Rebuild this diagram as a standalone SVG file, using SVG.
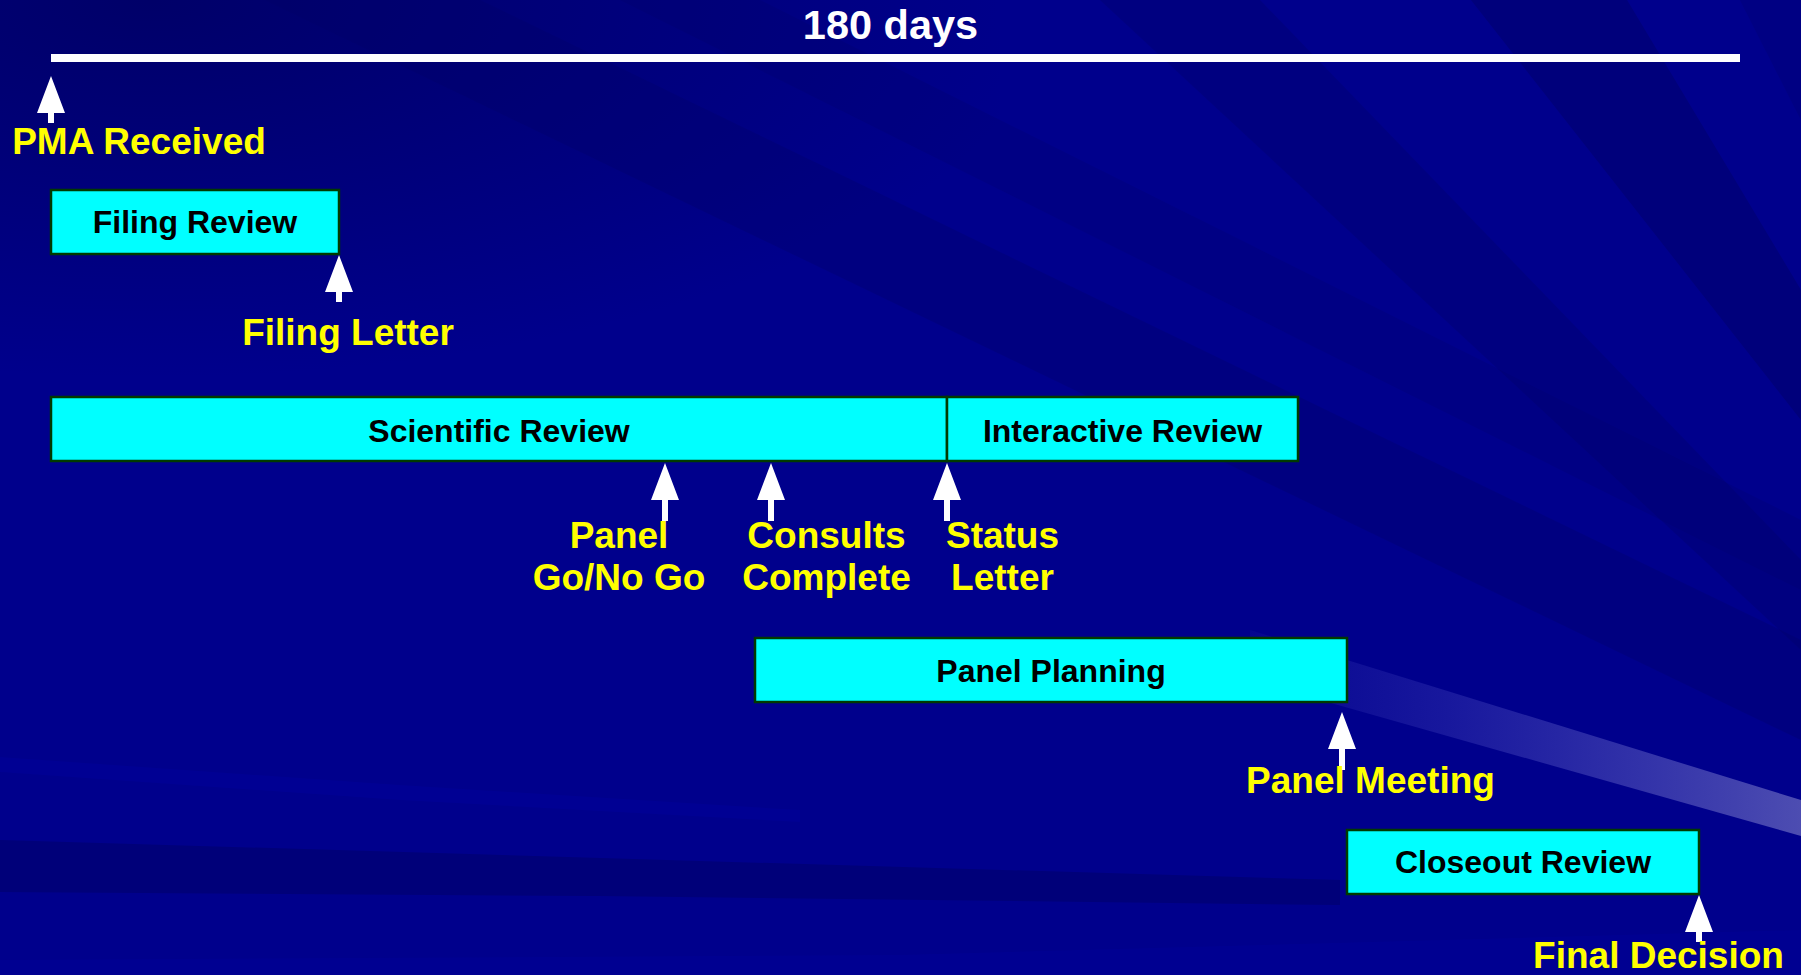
<svg xmlns="http://www.w3.org/2000/svg" xmlns:xlink="http://www.w3.org/1999/xlink" width="1801" height="975" viewBox="0 0 1801 975">
<style>
.box{fill:#00FFFF;stroke:#003A00;stroke-width:2.5}
.bt{font-family:"Liberation Sans",Arial,sans-serif;font-weight:bold;font-size:32px;fill:#000;text-anchor:middle}
.lb{font-family:"Liberation Sans",Arial,sans-serif;font-weight:bold;font-size:37px;fill:#FFFF00;text-anchor:middle}
.ttl{font-family:"Liberation Sans",Arial,sans-serif;font-weight:bold;font-size:41.5px;fill:#FFFFFF;text-anchor:middle}
.arr{fill:#FFFFFF}
.dk{fill:#000066}
</style>
<defs>
<path id="arrS" d="M0,0 L14,37 L3,37 L3,47 L-3,47 L-3,37 L-14,37 Z"/>
<path id="arrL" d="M0,0 L14,37 L3,37 L3,58 L-3,58 L-3,37 L-14,37 Z"/>
<linearGradient id="streak" x1="0" y1="0" x2="1" y2="0">
<stop offset="0" stop-color="#6a6ad8" stop-opacity="0.05"/>
<stop offset="0.35" stop-color="#6a6ad8" stop-opacity="0.22"/>
<stop offset="1" stop-color="#8c8cd0" stop-opacity="0.55"/>
</linearGradient>
<radialGradient id="corner" cx="0.15" cy="0" r="0.9">
<stop offset="0" stop-color="#000060" stop-opacity="0.8"/>
<stop offset="1" stop-color="#000060" stop-opacity="0"/>
</radialGradient>
</defs>
<g id="background">
<rect x="0" y="0" width="1801" height="975" fill="#00008C"/>
<rect x="0" y="0" width="1000" height="420" fill="url(#corner)"/>
<polygon class="dk" opacity="0.3" points="265,0 480,0 1801,640 1801,740"/>
<polygon class="dk" opacity="0.2" points="620,0 760,0 1801,520 1801,590"/>
<polygon class="dk" opacity="0.3" points="1100,0 1260,0 1801,560 1801,650"/>
<polygon class="dk" opacity="0.45" points="1471,0 1627,0 1801,290 1801,420"/>
<polygon class="dk" opacity="0.25" points="1740,0 1801,0 1801,120"/>
<polygon class="dk" opacity="0.5" points="0,840 600,858 1340,880 1340,905 600,896 0,892"/>
<polygon fill="#0000A0" opacity="0.35" points="0,757 400,785 800,810 800,822 400,800 0,772"/>
<polygon fill="#0000A0" opacity="0.3" points="0,960 900,955 1801,930 1801,975 0,975"/>
<polygon fill="url(#streak)" points="1250,630 1801,800 1801,836 1250,680"/>
</g>
<g id="timeline">
<text class="ttl" x="890.5" y="39">180 days</text>
<rect x="51" y="54" width="1689" height="8" fill="#FFFFFF"/>
</g>
<g id="connectors">
<use xlink:href="#arrS" class="arr" x="51" y="76"/>
<use xlink:href="#arrS" class="arr" x="339" y="255"/>
<use xlink:href="#arrL" class="arr" x="665" y="463"/>
<use xlink:href="#arrL" class="arr" x="771" y="463"/>
<use xlink:href="#arrL" class="arr" x="947" y="463"/>
<use xlink:href="#arrL" class="arr" x="1342" y="712"/>
<use xlink:href="#arrS" class="arr" x="1699" y="895"/>
</g>
<g id="node-filing-review">
<rect class="box" x="51" y="190" width="288" height="64"/>
<text class="bt" x="195" y="233">Filing Review</text>
</g>
<g id="node-scientific-review">
<rect class="box" x="51" y="397" width="896" height="64"/>
<text class="bt" x="499" y="441.5">Scientific Review</text>
</g>
<g id="node-interactive-review">
<rect class="box" x="947" y="397" width="351" height="64"/>
<text class="bt" x="1122.5" y="441.5">Interactive Review</text>
</g>
<g id="node-panel-planning">
<rect class="box" x="755" y="638" width="592" height="64"/>
<text class="bt" x="1051" y="682">Panel Planning</text>
</g>
<g id="node-closeout-review">
<rect class="box" x="1347" y="830" width="352" height="64"/>
<text class="bt" x="1523" y="873">Closeout Review</text>
</g>
<g id="label-pma-received"><text class="lb" x="139" y="154">PMA Received</text></g>
<g id="label-filing-letter"><text class="lb" x="348" y="345">Filing Letter</text></g>
<g id="label-panel-go"><text class="lb" x="619" y="548">Panel</text><text class="lb" x="619" y="590">Go/No Go</text></g>
<g id="label-consults"><text class="lb" x="826.5" y="548">Consults</text><text class="lb" x="826.5" y="590">Complete</text></g>
<g id="label-status"><text class="lb" x="1002.5" y="548">Status</text><text class="lb" x="1002.5" y="590">Letter</text></g>
<g id="label-panel-meeting"><text class="lb" x="1370.5" y="793">Panel Meeting</text></g>
<g id="label-final-decision"><text class="lb" x="1658.5" y="968">Final Decision</text></g>
</svg>
